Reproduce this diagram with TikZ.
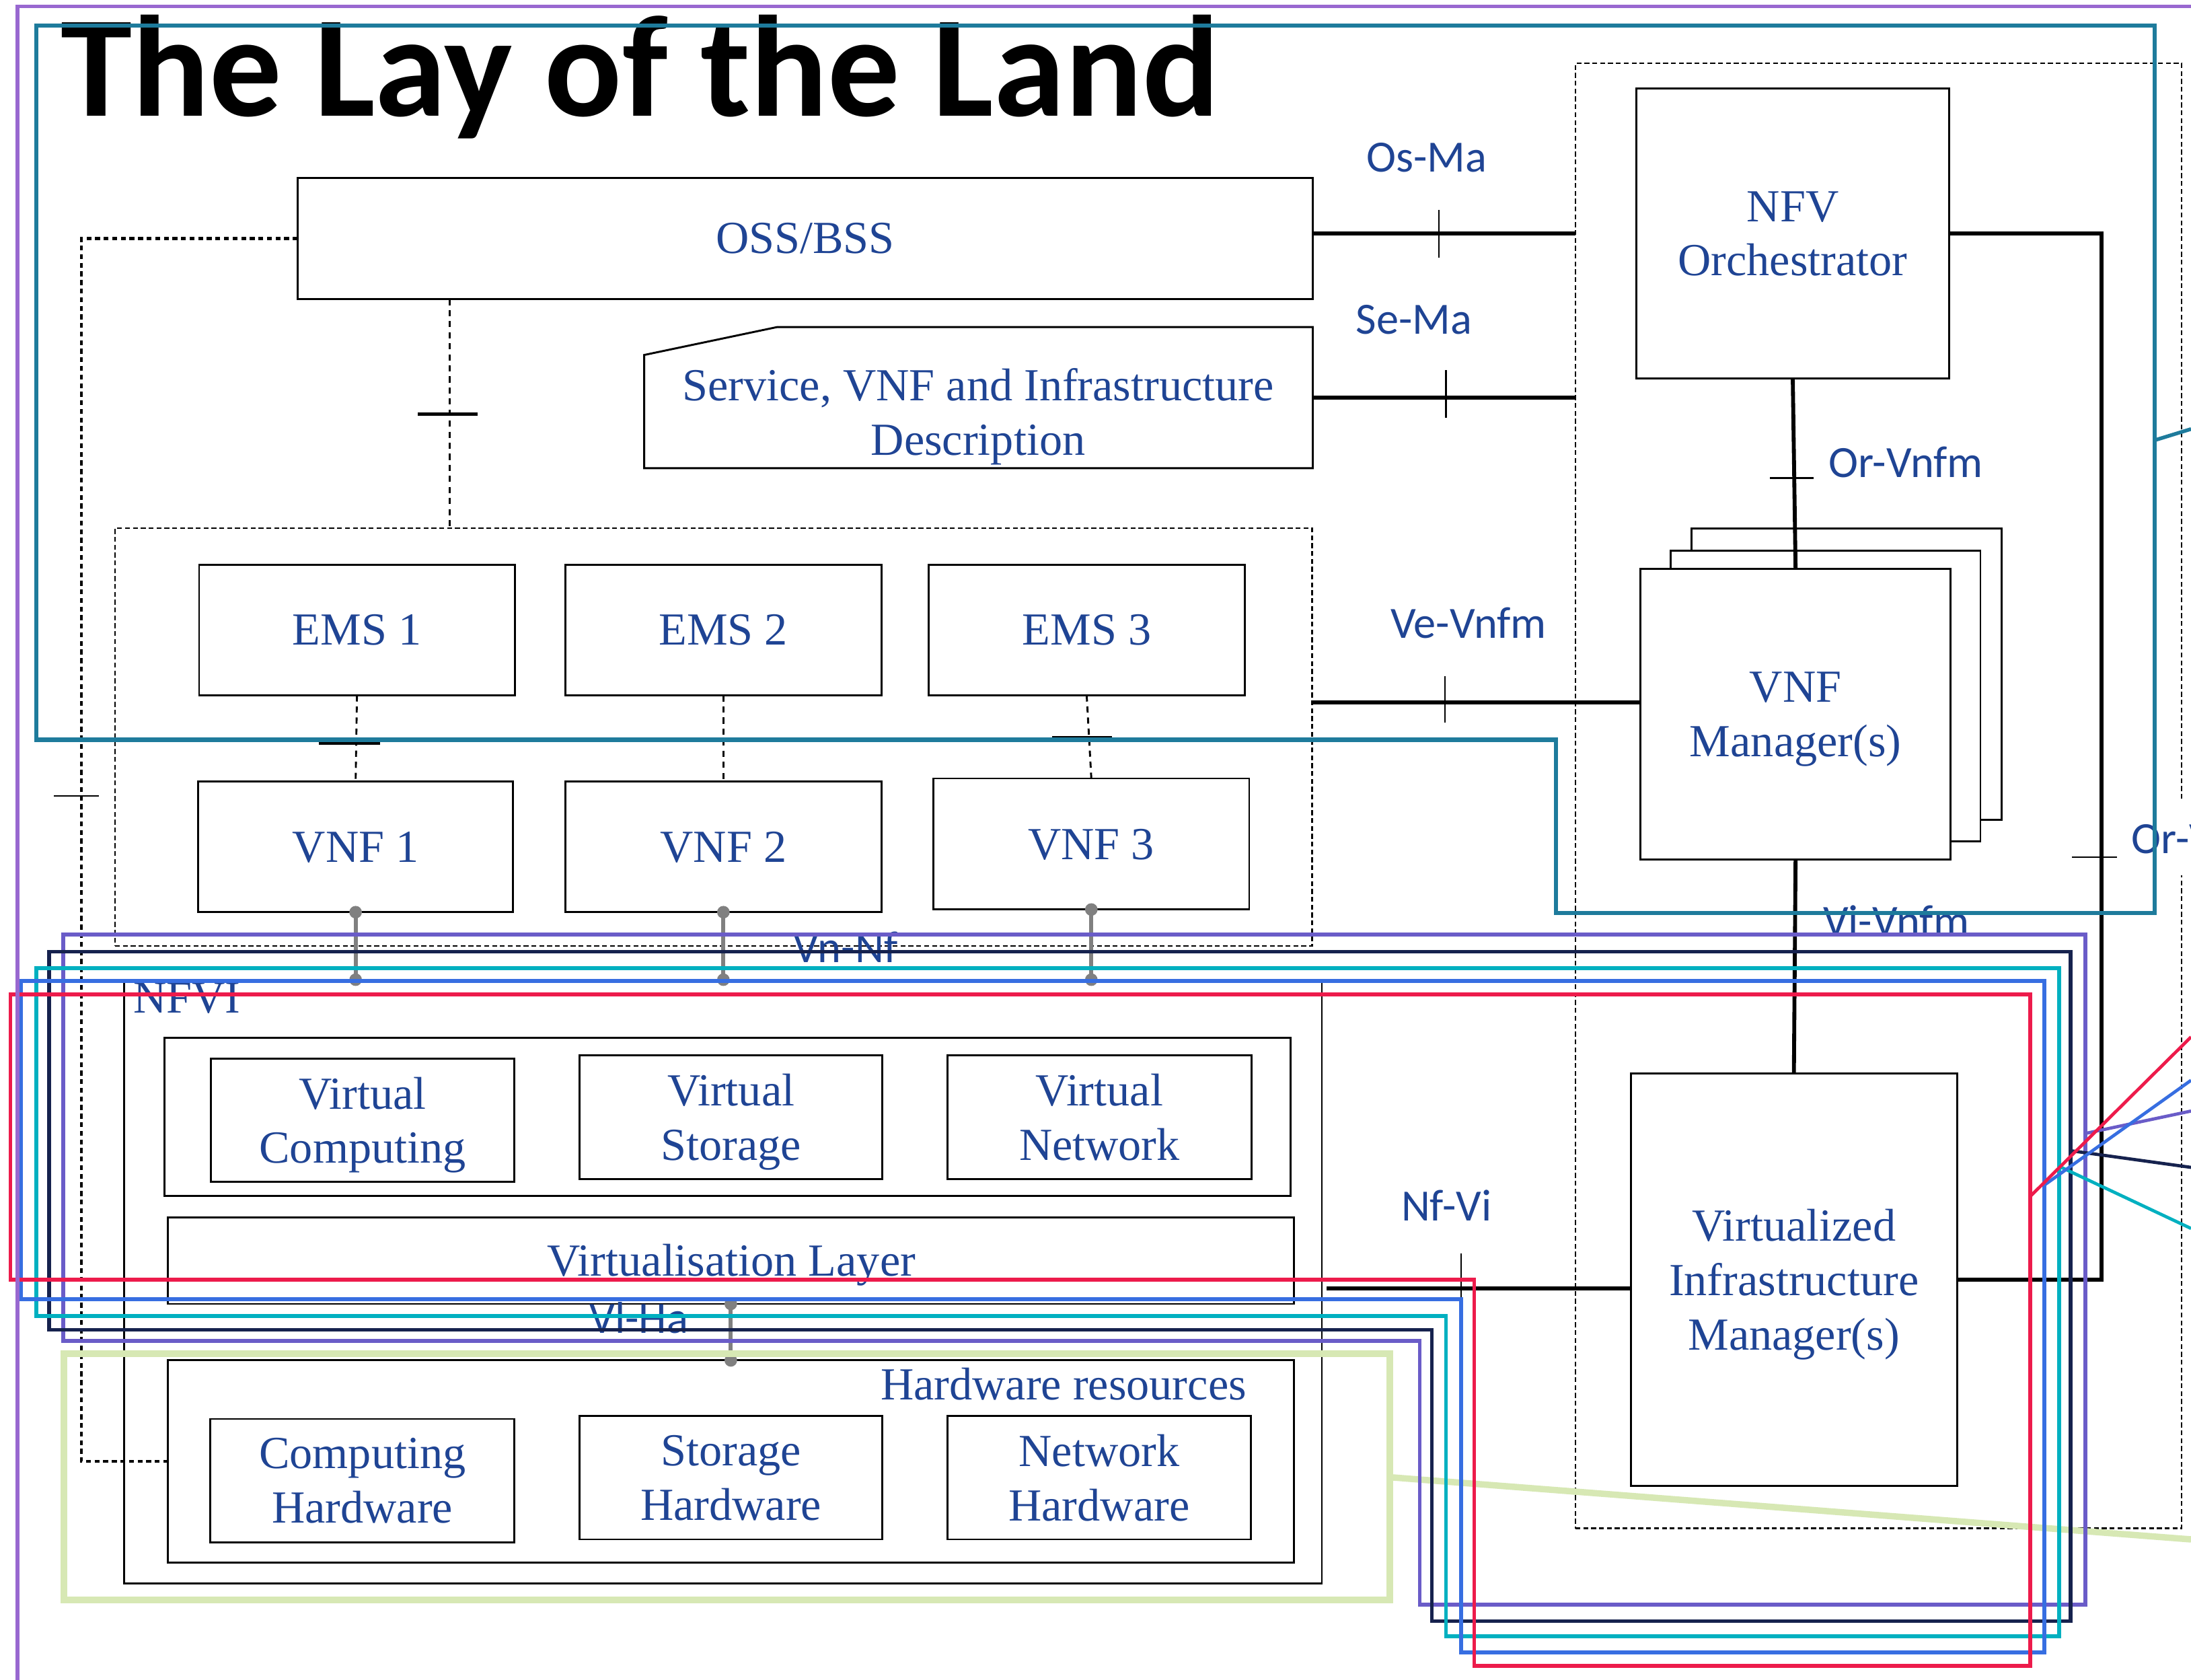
\documentclass[tikz,border=0pt]{standalone}
\usepackage{fontspec}
\setmainfont{Liberation Serif}
\newfontfamily\labfont{Carlito}
\usetikzlibrary{calc}
\definecolor{txtblue}{RGB}{31,68,148}
\definecolor{cpurp}{RGB}{106,92,200}
\definecolor{cnavy}{RGB}{22,34,78}
\definecolor{ccyan}{RGB}{0,176,192}
\definecolor{cblue}{RGB}{55,110,225}
\definecolor{cred}{RGB}{237,27,75}
\definecolor{cgreen}{RGB}{215,232,180}
\definecolor{cteal}{RGB}{30,123,156}
\definecolor{couter}{RGB}{152,104,208}
\definecolor{cgray}{RGB}{128,128,128}
\newcommand\serifsz{\fontsize{18.7}{22.1}\selectfont}
\newcommand\labsz{\labfont\fontsize{18.2}{22}\selectfont}
\newcommand\titlesz{\labfont\bfseries\fontsize{58.7}{60}\selectfont}
\newcommand\mybox[7][]{\node[box,#1,minimum width={(#5-#3)*0.02cm},minimum height={(#6-#4)*0.02cm}] (#2) at ({(#3+#5)/2},{(#4+#6)/2}) {#7};}
\begin{document}
\begin{tikzpicture}[x=0.02cm,y=-0.02cm,
  box/.style={draw=black,line width=0.8pt,inner sep=0pt,outer sep=0pt,align=center,text=txtblue,font=\serifsz,text depth=0pt},
  txt/.style={inner sep=0pt,outer sep=0pt,align=center,text=txtblue,font=\serifsz},
  lab/.style={inner sep=0pt,outer sep=0pt,text=txtblue,font=\labsz},
  emsd/.style={dash pattern=on 2pt off 1.2pt,line width=0.7pt},
  cdash/.style={dash pattern=on 2.5pt off 2pt,line width=0.8pt},
  ossl/.style={dash pattern=on 2pt off 1.5pt,line width=1.2pt},
  iface/.style={line width=1.6pt},
  tk/.style={line width=0.7pt},
  tkb/.style={line width=1.3pt},
  gcon/.style={draw=cgray,line width=1.6pt},
  colline/.style={line width=1.6pt},
  diagline/.style={line width=1.3pt}]
\useasboundingbox (0,0) rectangle (1568,1202.1);
\clip (0,0) rectangle (1568,1202.1);
\fill[white] (0,0) rectangle (1568,1202.1);

% title
\node[anchor=base west,inner sep=0pt,font=\titlesz] (title) at (43,83) {The Lay of the Land};

% top boxes
\mybox{oss}{213}{127.2}{939.5}{214}{OSS/BSS}
\node[inner sep=0pt,outer sep=0pt,minimum width={(939.5-461)*0.02cm},minimum height={(335-234)*0.02cm}] (svi) at ({(461+939.5)/2},{(234+335)/2}) {};
\draw[line width=0.8pt] (svi.south west) -- (svi.south east) -- (svi.north east) -- ($(svi.north west)+(95.3,0)$) -- ($(svi.north west)+(0,20)$) -- cycle;
\node[txt] (svitxt) at (700,298) {Service, VNF and Infrastructure\\Description};

% MANO
\mybox[emsd]{mano}{1127.5}{45.3}{1561.3}{1093.6}{}
\mybox{nfvo}{1171.2}{63.2}{1394.8}{271}{NFV\\Orchestrator}
\mybox[fill=white]{vnfmc}{1210.7}{378}{1432.5}{586.7}{}
\mybox[fill=white]{vnfmb}{1195.4}{394}{1417.3}{602}{}
\mybox[fill=white]{vnfm}{1174}{407}{1396}{615}{VNF\\Manager(s)}
\mybox{vim}{1167}{768}{1400.6}{1063}{Virtualized\\Infrastructure\\Manager(s)}

% EMS / VNF
\mybox[emsd]{emsgrp}{82.3}{378}{939}{676.8}{}
\mybox{ems1}{142.5}{404}{368.4}{497.6}{EMS 1}
\mybox{ems2}{404.7}{404}{630.7}{497.6}{EMS 2}
\mybox{ems3}{664.4}{404}{891}{497.6}{EMS 3}
\mybox{vnf1}{141.8}{559.2}{367.2}{652.7}{VNF 1}
\mybox{vnf2}{404.7}{559.2}{630.7}{652.7}{VNF 2}
\mybox{vnf3}{668}{557}{894}{650.8}{VNF 3}

% NFVI
\mybox{nfvi}{89}{701}{946}{1133}{}
\node[txt,anchor=base west] (nfvilab) at (95.5,725) {NFVI};
\mybox{vcont}{117.6}{742.8}{923.6}{855.8}{}
\mybox{vcomp}{151}{757.3}{368}{845.5}{Virtual\\Computing}
\mybox{vstor}{414.7}{755}{631.6}{843.7}{Virtual\\Storage}
\mybox{vnet}{678}{755}{895.7}{843.8}{Virtual\\Network}
\mybox{vlayer}{120.2}{871.3}{925.8}{933}{}
\node[txt,anchor=base] (vltxt) at (523.5,913.2) {Virtualisation Layer};
\mybox{hwres}{120.2}{973.4}{925.8}{1118}{}
\node[txt,anchor=base east] (hwtxt) at (892,1001.8) {Hardware resources};
\mybox{chw}{150.6}{1015.3}{368.1}{1103.6}{Computing\\Hardware}
\mybox{shw}{414.7}{1013}{631.6}{1101.5}{Storage\\Hardware}
\mybox{nhw}{678.2}{1013}{895}{1101.5}{Network\\Hardware}

% OSS dotted connectors
\draw[ossl] (oss.west) -- ++(-154.7,0) |- (hwres.west);
\coordinate (t0) at (54.6,569.5);
\draw[tk] (t0) ++(-16,0) -- ++(32,0);
\coordinate (ossx) at ($(oss.south west)!0.15!(oss.south east)$);
\draw[cdash] (ossx) -- (ossx |- emsgrp.north);
\coordinate (t1) at (320.5,296.3);
\draw[tkb] (t1) ++(-21.5,0) -- ++(43,0);

% EMS - VNF
\draw[cdash] (ems1.south) -- (vnf1.north);
\draw[cdash] (ems2.south) -- (vnf2.north);
\draw[cdash] (ems3.south) -- (vnf3.north);
\coordinate (t2) at (250.2,532);
\draw[tkb] (t2) ++(-21.8,0) -- ++(43.6,0);
\coordinate (t3) at (774.3,527.4);
\draw[tk] (t3) ++(-21.5,0) -- ++(43,0);

% reference points
\draw[iface] (oss.east |- nfvo.east) -- (mano.west |- nfvo.east);
\coordinate (t4) at (1029.8,167.2);
\draw[tk] (t4) ++(0,-17) -- ++(0,34);
\draw[iface] (svi.east) -- (svi.east -| mano.west);
\coordinate (t5) at (1034.8,281.9);
\draw[tk] (t5) ++(0,-16.9) -- ++(0,33.8);
\coordinate (vey) at (0,502.4);
\draw[iface] (emsgrp.east |- vey) -- (vnfm.west |- vey);
\coordinate (t6) at (1034,500.5);
\draw[tk] (t6) ++(0,-16.5) -- ++(0,33);
\draw[iface] (nfvo.south) -- (vnfm.north);
\coordinate (t7) at (1282.2,342);
\draw[tk] (t7) ++(-15.5,0) -- ++(31,0);
\draw[iface] (vnfm.south) -- (vim.north);
\coordinate (orvix) at (1504,0);
\draw[iface] (nfvo.east) -- (nfvo.east -| orvix) |- (vim.east);
\coordinate (t8) at (1499,613.4);
\draw[tk] (t8) ++(-16,0) -- ++(32,0);
\coordinate (nfy) at (0,921.8);
\draw[iface] ([xshift=2pt]nfvi.east |- nfy) -- (vim.west |- nfy);
\coordinate (t9) at (1045.7,921);
\draw[tk] (t9) ++(0,-24) -- ++(0,48);

% gray Vn-Nf and Vl-Ha
\foreach \v in {vnf1,vnf2,vnf3}{
  \draw[gcon] (\v.south) -- (\v.south |- nfvi.north);
  \fill[cgray] (\v.south) circle[radius=0.09cm];
  \fill[cgray] (\v.south |- nfvi.north) circle[radius=0.09cm];
}
\draw[gcon] (vlayer.south) -- (hwres.north);
\fill[cgray] (vlayer.south) circle[radius=0.09cm];
\fill[cgray] (hwres.north) circle[radius=0.09cm];

% labels
\node[lab,anchor=base] (osmalab) at (1021,122.9) {Os-Ma};
\node[lab,anchor=base] (semalab) at (1012,239.2) {Se-Ma};
\node[lab,anchor=base west] (orvnfmlab) at (1308.8,341.6) {Or-Vnfm};
\node[lab,anchor=base] (vevnfmlab) at (1051,456.5) {Ve-Vnfm};
\node[lab,anchor=base west] (vivnfmlab) at (1304.7,670) {Vi-Vnfm};
\node[lab,anchor=base west] (nfvilab2) at (1002.8,873.6) {Nf-Vi};
\node[lab,anchor=base west] (vnnflab) at (568,688.6) {Vn-Nf};
\node[lab,anchor=base west] (vlhalab) at (422,953.7) {Vl-Ha};
\node[lab,anchor=base west,fill=white,inner xsep=2pt,inner ysep=9pt] (orvilab) at (1522,610.5) {Or-Vi};

% coloured outlines
\draw[draw=cgreen,line width=2.8pt] (45.9,968.6) rectangle (994.5,1144.7);
\draw[draw=cgreen,line width=2.6pt] (994.5,1057) -- (1568,1101.5);
\draw[draw=cpurp,colline] (45.3,668.5) -- (1492.5,668.5) -- (1492.5,1148.3) -- (1016,1148.3) -- (1016,959.5) -- (45.3,959.5) -- cycle;
\draw[draw=cpurp,diagline] (1492.5,811) -- (1568,795);
\draw[draw=cnavy,colline] (35,681) -- (1482,681) -- (1482,1160) -- (1024.7,1160) -- (1024.7,951.5) -- (35,951.5) -- cycle;
\draw[draw=cnavy,diagline] (1482,823.4) -- (1568,835.3);
\draw[draw=ccyan,colline] (25.9,692.7) -- (1473.5,692.7) -- (1473.5,1171) -- (1034.8,1171) -- (1034.8,941.7) -- (25.9,941.7) -- cycle;
\draw[draw=ccyan,diagline] (1473.5,834.5) -- (1568,879);
\draw[draw=cblue,colline] (15,701.9) -- (1463,701.9) -- (1463,1182.5) -- (1045.6,1182.5) -- (1045.6,929.7) -- (15,929.7) -- cycle;
\draw[draw=cblue,diagline] (1463,848) -- (1568,773);
\draw[draw=cred,colline] (7.5,711.4) -- (1453,711.4) -- (1453,1192) -- (1055,1192) -- (1055,915.6) -- (7.5,915.6) -- cycle;
\draw[draw=cred,diagline] (1453,856) -- (1568,742);
\draw[draw=cteal,line width=1.8pt] (26,18.3) -- (1542,18.3) -- (1542,653.3) -- (1113.5,653.3) -- (1113.5,529.4) -- (26,529.4) -- cycle;
\draw[draw=cteal,line width=1.5pt] (1542,315) -- (1568,307);
\draw[draw=couter,line width=1.5pt] (12.5,1215) -- (12.5,4.7) -- (1580,4.7);
\end{tikzpicture}
\end{document}
